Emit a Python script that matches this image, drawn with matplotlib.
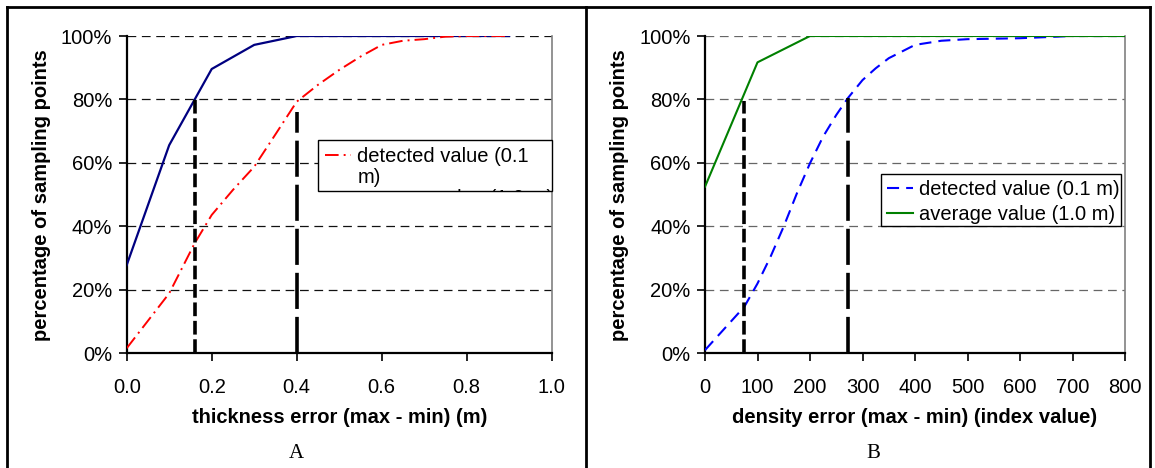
import matplotlib.pyplot as plt
from matplotlib.ticker import PercentFormatter
from matplotlib.lines import Line2D
from matplotlib.patches import Rectangle
from matplotlib.transforms import Bbox

plt.rcParams['font.family'] = ['Liberation Sans', 'DejaVu Sans']

# panel A: thickness error (m)
thick_x = [0.0, 0.1, 0.2, 0.3, 0.4, 0.5, 0.6, 0.7, 0.8, 0.9]
thick_avg = [0.278, 0.656, 0.896, 0.972, 1.0, 1.0, 1.0, 1.0, 1.0, 1.0]
thick_det_x = [0.0, 0.1, 0.16, 0.2, 0.25, 0.3, 0.35, 0.4, 0.45, 0.5, 0.55, 0.6, 0.65, 0.7, 0.75, 0.8, 0.9]
thick_det = [0.016, 0.189, 0.347, 0.436, 0.515, 0.588, 0.69, 0.793, 0.846, 0.893, 0.935,
             0.972, 0.985, 0.99, 0.998, 1.0, 1.0]
thick_marks = [0.16, 0.40]
thick_mark_tops = [0.80, 0.762]

# panel B: density error (index value)
dens_x = [0, 75, 100, 125, 150, 175, 200, 225, 250, 272, 300, 325, 350, 400, 450, 500, 600, 700, 800]
dens_det = [0.01, 0.147, 0.22, 0.305, 0.40, 0.504, 0.599, 0.683, 0.751, 0.804, 0.861, 0.898,
            0.93, 0.972, 0.985, 0.99, 0.993, 1.0, 1.0]
dens_avg_x = [0, 100, 200, 300, 400, 500, 600, 700, 800]
dens_avg = [0.525, 0.917, 1.0, 1.0, 1.0, 1.0, 1.0, 1.0, 1.0]
dens_marks = [75, 272]
dens_mark_tops = [0.795, 0.805]

W, H = 1155, 468
fig = plt.figure(figsize=(W / 100, H / 100), dpi=100)

fs = 14.5


def style(ax, xlabel, gridcolor):
    ax.set_ylim(0, 1)
    ax.set_yticks([0, 0.2, 0.4, 0.6, 0.8, 1.0])
    ax.yaxis.set_major_formatter(PercentFormatter(1.0, decimals=0))
    for y in [0.2, 0.4, 0.6, 0.8, 1.0]:
        ax.axhline(y, color=gridcolor, lw=0.9, dashes=(7, 4.5), zorder=1)
    ax.spines['top'].set_visible(False)
    ax.spines['right'].set_color('#808080')
    ax.spines['right'].set_linewidth(1.2)
    for s in ['left', 'bottom']:
        ax.spines[s].set_linewidth(1.6)
    ax.tick_params(direction='out', length=5.5, width=1.2, labelsize=fs, colors='black')
    ax.tick_params(axis='x', pad=12)
    ax.tick_params(axis='y', pad=5)
    ax.set_xlabel(xlabel, fontsize=fs, fontweight='bold', labelpad=8)
    ax.set_ylabel('percentage of sampling points', fontsize=fs, fontweight='bold', labelpad=7)


def framed_legend(ax, handles, labels, box, **kw):
    # box = (left, top, right, bottom) in pixels from the top left corner
    l, t, r, b = box
    leg = ax.legend(handles, labels, loc='upper left', bbox_to_anchor=(l / W, 1 - t / H),
                    bbox_transform=fig.transFigure, fontsize=fs, frameon=False,
                    borderaxespad=0, **kw)
    leg.set_zorder(5)
    clip = Bbox([[l, H - b], [r, H - t]])
    for a in leg.get_texts() + leg.get_lines():
        a.set_clip_box(clip)
    rect = Rectangle((l / W, 1 - b / H), (r - l) / W, (b - t) / H, transform=fig.transFigure,
                     facecolor='white', edgecolor='black', lw=1.0, zorder=4.5, clip_on=False)
    ax.add_artist(rect)
    return leg


# ---- A ----
axA = fig.add_axes([126.7 / W, 1 - 353.3 / H, 425 / W, 317.3 / H])
navyA, = axA.plot(thick_x, thick_avg, color='#000080', lw=1.6, zorder=3)
redA, = axA.plot(thick_det_x, thick_det, color='#FF0000', lw=1.4, dashes=(7, 2.6, 1, 2.6), zorder=3)
axA.plot([thick_marks[0]] * 2, [0, thick_mark_tops[0]], color='black', lw=2.6, dashes=(3.8, 1.3), zorder=4)
axA.plot([thick_marks[1]] * 2, [0, thick_mark_tops[1]], color='black', lw=2.6, dashes=(10, 2.2), zorder=4)
axA.set_xlim(0, 1)
axA.set_xticks([0, 0.2, 0.4, 0.6, 0.8, 1.0])
axA.set_xticklabels(['0.0', '0.2', '0.4', '0.6', '0.8', '1.0'])
style(axA, 'thickness error (max - min) (m)', '#111111')

# legend A is too small in the source: the wrapped text is cut off at the box edge
blank = Line2D([], [], color='none')
framed_legend(axA, [redA, blank, navyA], ['detected value (0.1', 'm)', 'average value (1.0 m)'],
              (318, 140, 552, 191), handlelength=1.3, borderpad=0.35, handletextpad=0.3,
              labelspacing=0.1)

# ---- B ----
axB = fig.add_axes([705 / W, 1 - 353.3 / H, 420 / W, 317.3 / H])
blueB, = axB.plot(dens_x, dens_det, color='#0000FF', lw=1.5, dashes=(5.8, 3.4), zorder=3)
greenB, = axB.plot(dens_avg_x, dens_avg, color='#008000', lw=1.5, zorder=3)
axB.plot([dens_marks[0]] * 2, [0, dens_mark_tops[0]], color='black', lw=2.6, dashes=(3.8, 1.3), zorder=4)
axB.plot([dens_marks[1]] * 2, [0, dens_mark_tops[1]], color='black', lw=2.6, dashes=(10, 2.2), zorder=4)
axB.set_xlim(0, 800)
axB.set_xticks(range(0, 801, 100))
style(axB, 'density error (max - min) (index value)', '#666666')
framed_legend(axB, [blueB, greenB], ['detected value (0.1 m)', 'average value (1.0 m)'],
              (881, 174, 1121, 226), handlelength=1.3, borderpad=0.3, handletextpad=0.3,
              labelspacing=0.3)

# outer table frame
for x in [7.4, 585.5, 1150]:
    fig.add_artist(Line2D([x / W, x / W], [0, 1 - 7 / H], color='black', lw=2, transform=fig.transFigure))
fig.add_artist(Line2D([7.4 / W, 1150 / W], [1 - 7 / H] * 2, color='black', lw=2,
                      transform=fig.transFigure))

fig.text(296 / W, 1 - 453 / H, 'A', ha='center', va='center', fontsize=15, family='Liberation Serif')
fig.text(873 / W, 1 - 453 / H, 'B', ha='center', va='center', fontsize=15, family='Liberation Serif')

fig.savefig('out.png', dpi=100)
